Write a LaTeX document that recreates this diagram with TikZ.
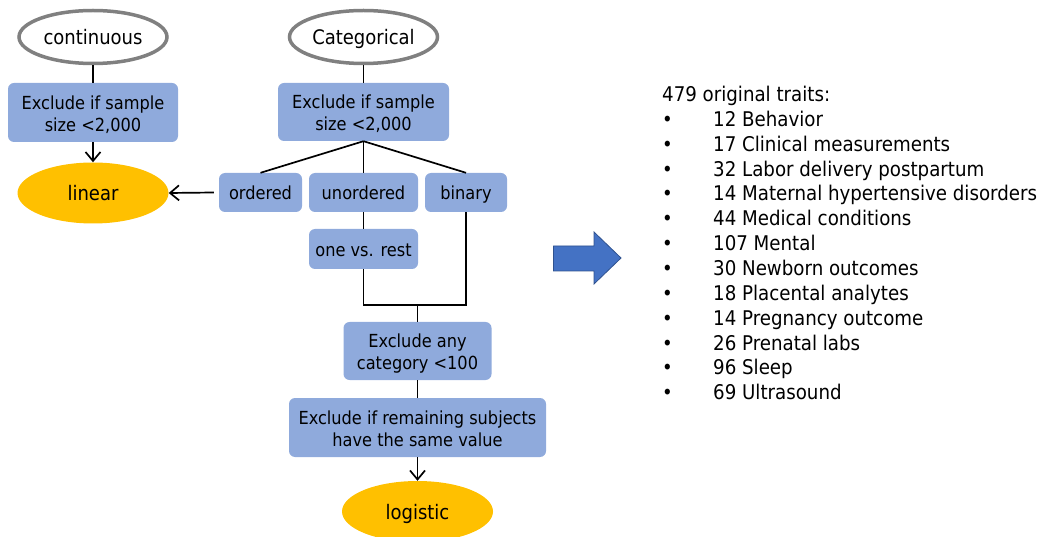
\documentclass[tikz,border=0pt]{standalone}
\usepackage{fontspec}
\setmainfont{DejaVu Sans Condensed}
\usetikzlibrary{shapes.geometric,arrows.meta}
\definecolor{boxblue}{RGB}{143,170,220}
\definecolor{orangefill}{RGB}{255,192,0}
\definecolor{ellgray}{RGB}{128,128,128}
\definecolor{arrowblue}{RGB}{68,114,196}
\definecolor{arrowedge}{RGB}{47,82,143}
\begin{document}
\begin{tikzpicture}[x=1pt,y=-1pt,
  box/.style={fill=boxblue, rounded corners=6pt, inner sep=0pt, align=center,
    text height=15pt, text depth=0pt, font=\fontsize{18}{22}\selectfont},
  box2/.style={box, text height=37.5pt, text depth=0pt},
  typeell/.style={ellipse, draw=ellgray, line width=3.5pt, fill=white, inner sep=0pt,
    minimum width=148pt, minimum height=53pt, text height=15.2pt, text depth=0pt,
    font=\fontsize{20}{22}\selectfont},
  outell/.style={ellipse, fill=orangefill, inner sep=0pt, text height=15.2pt, text depth=0pt,
    minimum width=151pt, minimum height=61pt, font=\fontsize{20}{22}\selectfont},
  conn/.style={line width=1.7pt, line join=miter},
  arr/.style={conn, -{Straight Barb[length=9pt,width=15pt,line width=1.7pt]}},
  listtxt/.style={anchor=base west, inner sep=0pt, font=\fontsize{20.25}{22}\selectfont},
  bullet/.style={anchor=base, inner sep=0pt, font=\fontsize{20}{22}\selectfont}
]
\useasboundingbox (0,0) rectangle (1039,537);
\clip (0,0) rectangle (1039,537);

% left column
\node[typeell] (cont) at (93,37) {continuous};
\node[box2, minimum width=170pt, minimum height=59pt] (contbox) at (93,112.5) {Exclude if sample\\size <2,000};
\node[outell] (linear) at (93,193) {linear};

% categorical column
\node[typeell] (cat) at (363.5,37) {Categorical};
\node[box2, minimum width=171pt, minimum height=58pt] (catbox) at (363.5,112) {Exclude if sample\\size <2,000};
\node[box, minimum width=83pt, minimum height=39pt] (ordered) at (260.5,192.5) {ordered};
\node[box, minimum width=109pt, minimum height=39pt] (unordered) at (363.5,192.5) {unordered};
\node[box, minimum width=82pt, minimum height=39pt] (binary) at (466,192.5) {binary};
\node[box, minimum width=109pt, minimum height=40pt] (onevs) at (363.5,249) {one vs. rest};
\node[box2, minimum width=148pt, minimum height=58pt] (anycat) at (417.5,351) {Exclude any\\category <100};
\node[box2, minimum width=257pt, minimum height=59pt] (remain) at (417.5,427.5) {Exclude if remaining subjects\\have the same value};
\node[outell] (logistic) at (417.5,511.5) {logistic};
\coordinate (join) at (417.5,305);

% connectors
\draw[conn] (cont.south) -- (contbox.north);
\draw[arr] (contbox.south) -- (linear.north);
\draw[conn] (cat.south) -- (catbox.north);
\draw[conn] (catbox.south) -- (ordered.north);
\draw[conn] (catbox.south) -- (unordered.north);
\draw[conn] (catbox.south) -- (binary.north);
\draw[arr] ([xshift=-5pt]ordered.west) -- (linear.east);
\draw[conn] (unordered.south) -- (onevs.north);
\draw[conn] (onevs.south) |- (join) -| (binary.south);
\draw[conn] (join) -- (anycat.north);
\draw[conn] (anycat.south) -- (remain.north);
\draw[arr] (remain.south) -- (logistic.north);

% block arrow
\draw[fill=arrowblue, draw=arrowedge, line width=0.8pt, line join=miter]
  (553.5,246) -- (594,246) -- (594,232) -- (621,258) -- (594,284) -- (594,271) -- (553.5,271) -- cycle;

% list
\node[listtxt] (hdr) at (662,101.5) {479 original traits:};
\foreach \t [count=\i] in {12 Behavior, 17 Clinical measurements, 32 Labor delivery postpartum,
  14 Maternal hypertensive disorders, 44 Medical conditions, 107 Mental, 30 Newborn outcomes,
  18 Placental analytes, 14 Pregnancy outcome, 26 Prenatal labs, 96 Sleep, 69 Ultrasound}{
  \node[bullet] (b\i) at (667.5,{101.5+24.85*\i}) {•};
  \node[listtxt] (item\i) at (713,{101.5+24.85*\i}) {\t};
}
\end{tikzpicture}
\end{document}
